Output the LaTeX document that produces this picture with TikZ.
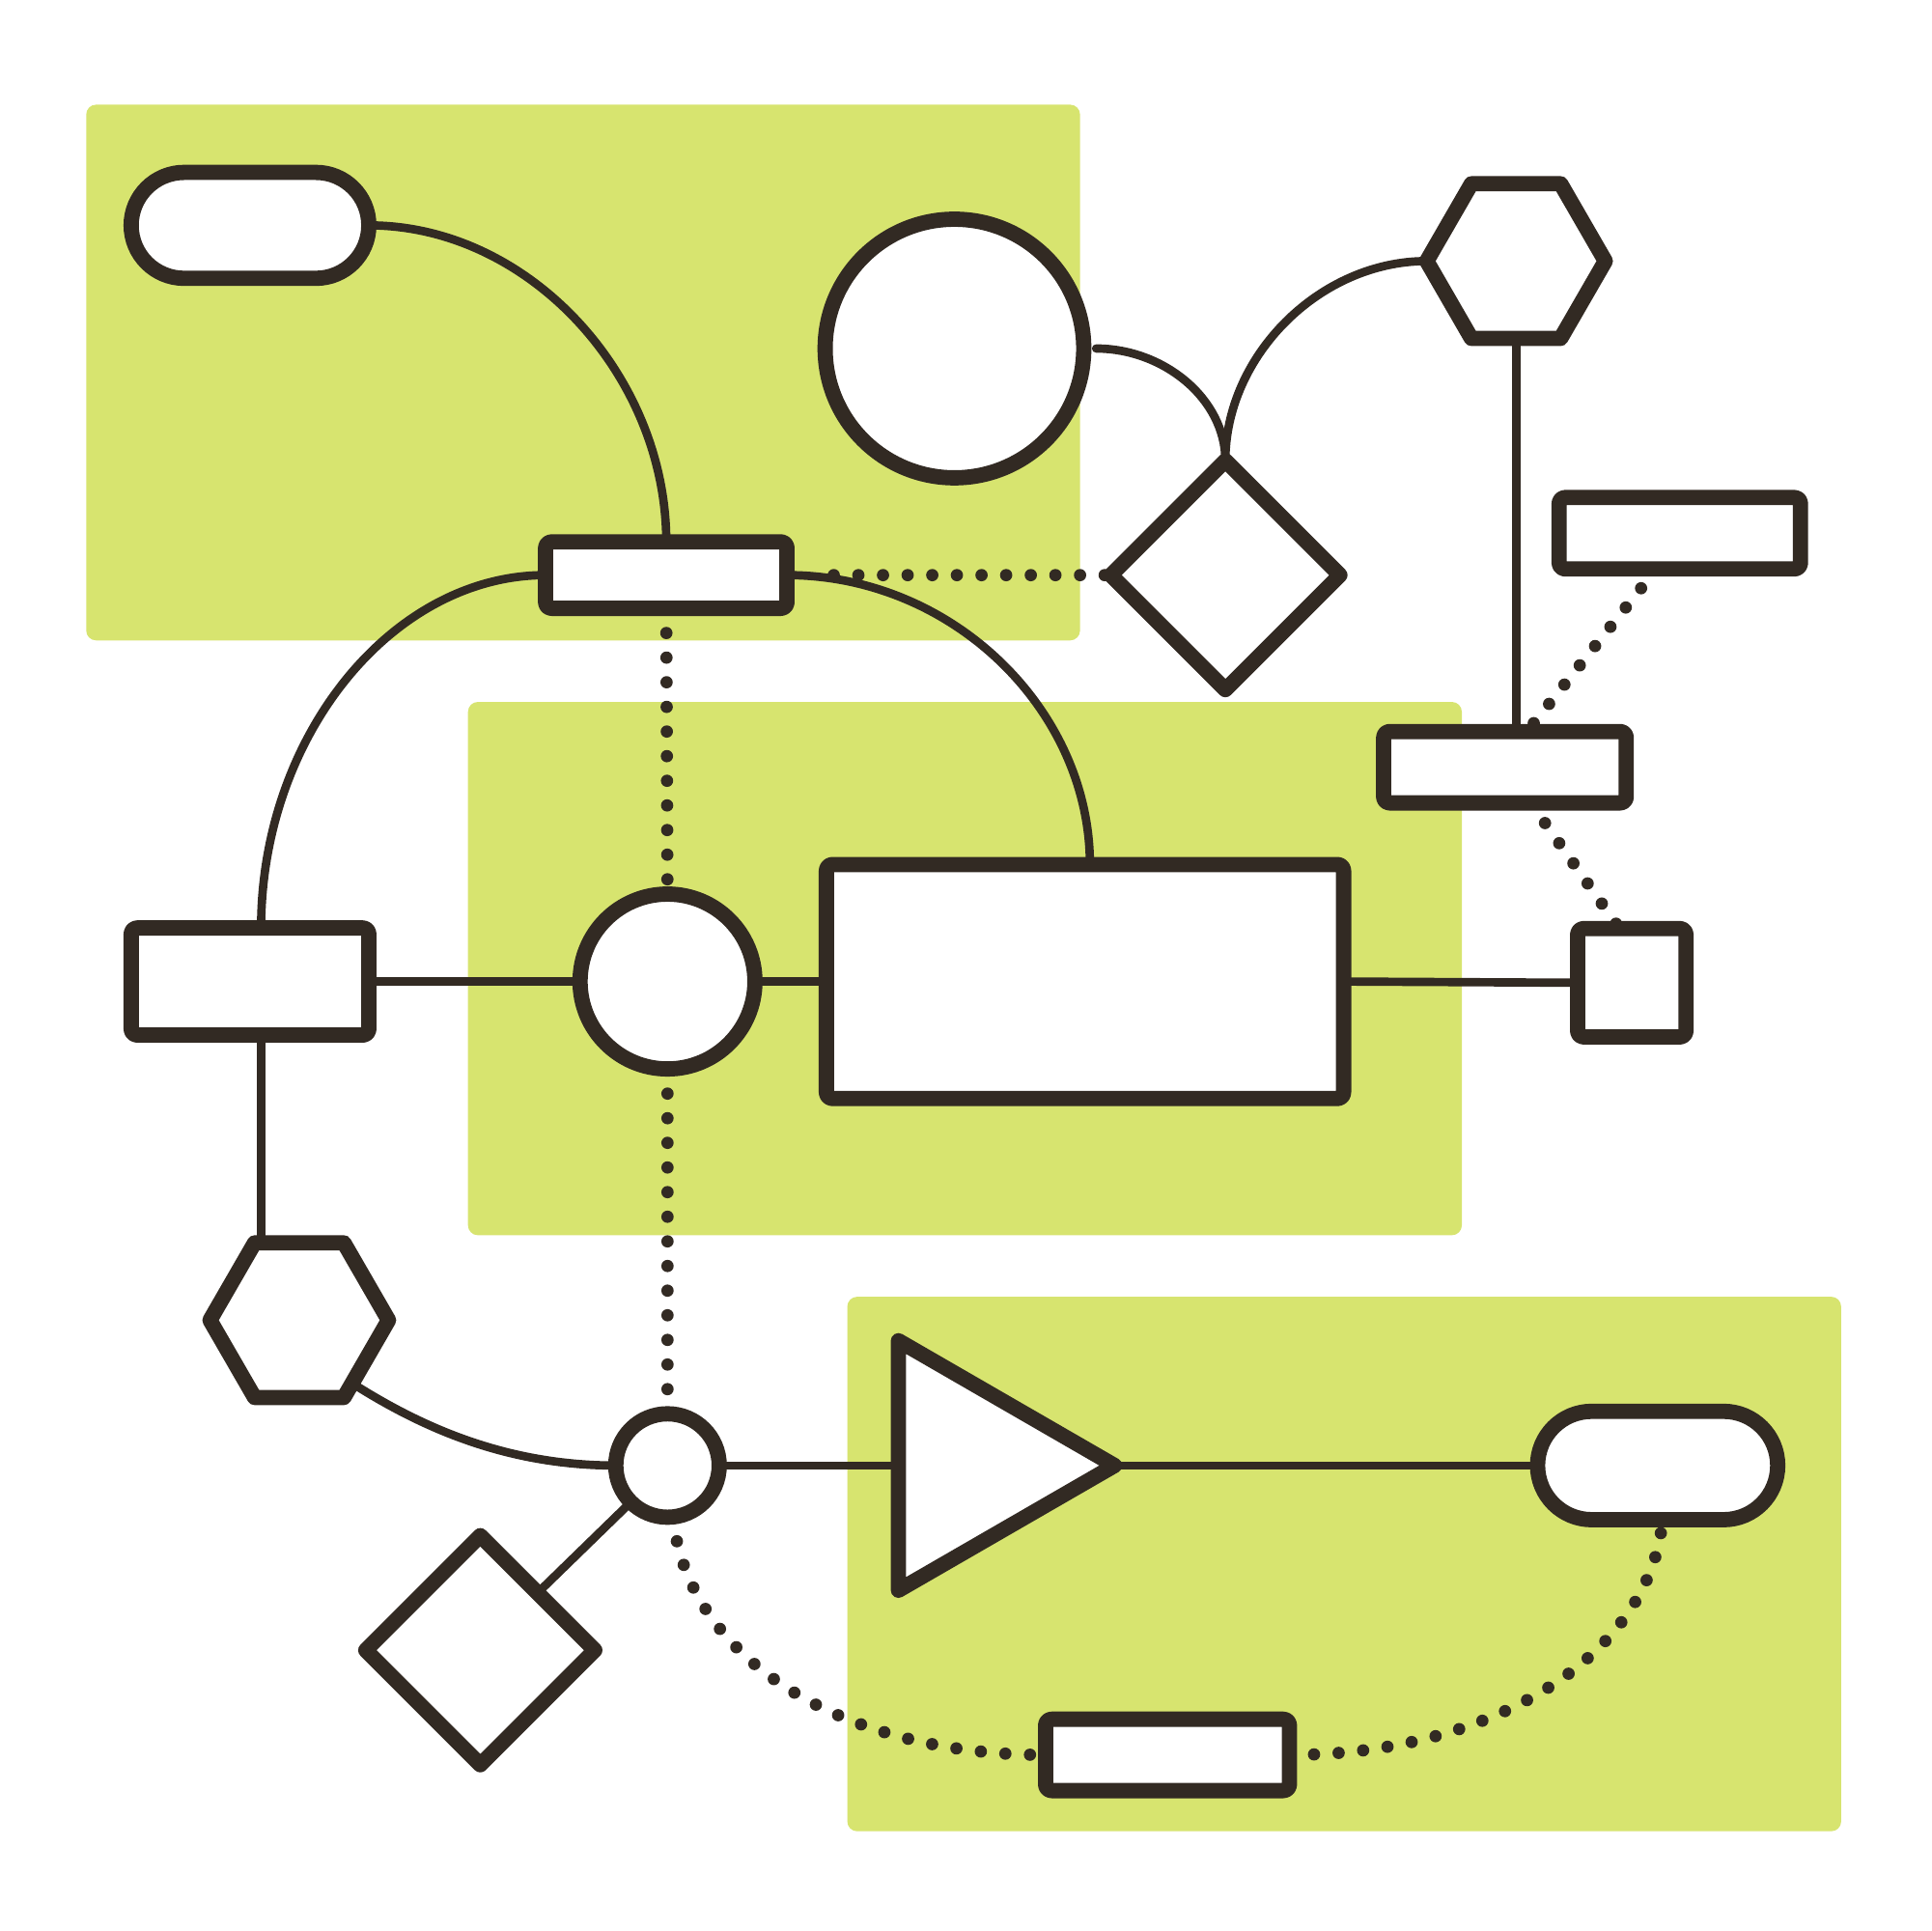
\documentclass[tikz,border=0pt]{standalone}
\usetikzlibrary{shapes.geometric,shapes.misc}
\definecolor{ink}{HTML}{322A23}
\definecolor{leaf}{HTML}{D7E46F}
\pgfdeclarelayer{bg}
\pgfdeclarelayer{wires}
\pgfsetlayers{bg,wires,main}
\begin{document}
\begin{tikzpicture}[x=0.5pt,y=-0.5pt,
 shp/.style={draw=ink,fill=white,line width=6.2pt,inner sep=0pt,outer sep=0pt,line join=round},
 boxr/.style={shp,rectangle,rounded corners=2.5pt},
 stad/.style={shp,rounded rectangle},
 circ/.style={shp,circle},
 hexa/.style={shp,regular polygon,regular polygon sides=6,minimum size=72.5pt},
 dia/.style={shp,diamond,minimum width=93pt,minimum height=93pt},
 wire/.style={draw=ink,line width=3.4pt,line cap=round},
 dots/.style={draw=ink,line width=5pt,line cap=round,dash pattern=on 0pt off 10pt},
 panel/.style={fill=leaf,rounded corners=4pt}]
\useasboundingbox (0,0) rectangle (1568,1568);
% nodes
\node[stad,minimum width=96.5pt,minimum height=43pt] (stadTL) at (203,183) {};
\node[circ,minimum size=105pt] (circTop) at (775,283) {};
\node[hexa] (hexTR) at (1231,212) {};
\node[dia] (diaTR) at (995,467) {};
\node[boxr,minimum width=98pt,minimum height=29pt] (rectTR) at (1364,433) {};
\node[boxr,minimum width=98.5pt,minimum height=29pt] (rectMR) at (1222,623) {};
\node[boxr,minimum size=44pt] (sqR) at (1325,798) {};
\node[boxr,minimum width=98pt,minimum height=27pt] (rectTC) at (541,467) {};
\node[boxr,minimum width=96.5pt,minimum height=43.5pt] (rectL) at (203,797) {};
\node[circ,minimum size=71pt] (circM) at (542,797) {};
\node[boxr,minimum width=210pt,minimum height=95pt] (rectBig) at (881,797) {};
\node[hexa] (hexL) at (243,1072) {};
\node[circ,minimum size=42pt] (circS) at (542,1190) {};
\node[dia] (diaBL) at (390,1340) {};
\node[shp,regular polygon,regular polygon sides=3,shape border rotate=-90,minimum size=117pt] (tri) at (788,1190) {};
\node[stad,minimum width=97.5pt,minimum height=44pt] (stadBR) at (1346,1190) {};
\node[boxr,minimum width=99pt,minimum height=29pt] (rectB) at (948,1425) {};
\coordinate (lt) at ([xshift=4.5pt]rectL.north);
\coordinate (lb) at ([xshift=4.5pt]rectL.south);
\coordinate (bigtop) at ([xshift=2pt]rectBig.north);
\coordinate (circTopR) at ([xshift=5pt]circTop.east);
\coordinate (tce) at ([xshift=19pt]rectTC.east);
\coordinate (trb) at ([xshift=-9.5pt]rectTR.south);
\coordinate (mrt) at ([xshift=9pt]rectMR.north);
\coordinate (mrb) at ([xshift=10.5pt]rectMR.south);
\coordinate (sqt) at ([xshift=-5pt]sqR.north);
\coordinate (brb) at ([xshift=2pt]stadBR.south);
% connectors
\begin{pgfonlayer}{wires}
\draw[wire] (stadTL.east) .. controls +(130,0) and +(0,-135) .. (rectTC.north);
\draw[wire] (rectTC.west) .. controls +(-125,0) and +(0,-155) .. (lt);
\draw[wire] (rectTC.east) .. controls +(135,0) and +(0,-125) .. (bigtop);
\draw[dots] (tce) -- (diaTR.west);
\draw[dots] (rectTC.south) -- (circM.north);
\draw[dots] (circM.south) -- (circS.north);
\draw[wire] (rectL.east) -- (circM.west);
\draw[wire] (circM.east) -- (rectBig.west);
\draw[wire] (rectBig.east) -- (sqR.west);
\draw[wire] (lb) -- (lb |- hexL.north);
\draw[wire] (hexL.-50) .. controls +(55,35) and +(-90,0) .. (circS.west);
\draw[wire] (circS) -- (tri);
\draw[wire] (tri) -- (stadBR);
\draw[wire] (circS.-135) -- (diaBL.45);
\draw[dots] (circS.-84) .. controls +(12,115) and +(-165,0) .. (rectB.west);
\draw[dots] (rectB.east) .. controls +(165,0) and +(-10,110) .. (brb);
\draw[wire] (circTopR) .. controls +(55,0) and +(0,-50) .. (diaTR.north);
\draw[wire] (diaTR.north) .. controls +(0,-85) and +(-87,0) .. (hexTR.west);
\draw[wire] (hexTR.south) -- (hexTR.south |- rectMR.north);
\draw[dots] (trb) -- (mrt);
\draw[dots] (mrb) -- (sqt);
\end{pgfonlayer}
% panels
\begin{pgfonlayer}{bg}
\fill[panel] (70,85) rectangle (877,520);
\fill[panel] (380,570) rectangle (1187,1003);
\fill[panel] (688,1053) rectangle (1495,1487);
\end{pgfonlayer}
\end{tikzpicture}
\end{document}
